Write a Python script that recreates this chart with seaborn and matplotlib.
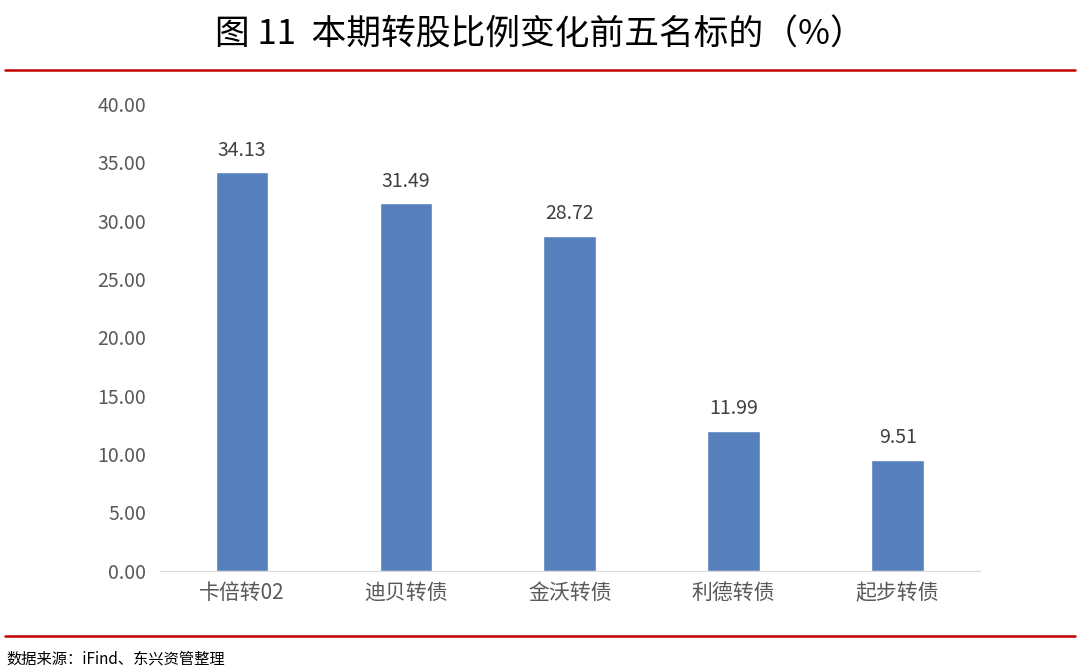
import matplotlib
matplotlib.use('Agg')
import matplotlib.pyplot as plt
import seaborn as sns
import pandas as pd
from matplotlib.lines import Line2D

names = ['卡倍转02', '迪贝转债', '金沃转债', '利德转债', '起步转债']
values = [34.13, 31.49, 28.72, 11.99, 9.51]
yticks = [0, 5, 10, 15, 20, 25, 30, 35, 40]

sns.set_style('white')
plt.rcParams['font.family'] = ['Noto Sans CJK SC', 'DejaVu Sans']

df = pd.DataFrame({'name': names, 'value': values})

fig = plt.figure(figsize=(10.8, 6.7), dpi=100)
ax = fig.add_axes([0.148, 0.148, 0.759, 0.697])
sns.barplot(data=df, x='name', y='value', color='#5680BC', width=0.32,
            saturation=1, ax=ax)

ax.set_ylim(0, 40)
ax.set_yticks(yticks)
ax.set_yticklabels(['{:.2f}'.format(v) for v in yticks], color='#595959', fontsize=14)
ax.tick_params(axis='x', labelsize=15, colors='#595959', length=0, pad=8)
ax.tick_params(axis='y', length=0, pad=10)
ax.set_xlabel('')
ax.set_ylabel('')
for s in ['top', 'right', 'left']:
    ax.spines[s].set_visible(False)
ax.spines['bottom'].set_color('#D9D9D9')

for i, v in enumerate(values):
    ax.text(i, v + 1.0, '{:.2f}'.format(v), ha='center', va='bottom',
            fontsize=14, color='#404040')

fig.text(0.5, 0.948, '图 11  本期转股比例变化前五名标的（%）', ha='center', va='center',
         fontsize=25, color='black')
fig.add_artist(Line2D([0.005, 0.995], [0.895, 0.895], color='#C00000', lw=1.8))
fig.add_artist(Line2D([0.005, 0.995], [0.051, 0.051], color='#C00000', lw=1.8))
fig.text(0.006, 0.017, '数据来源：iFind、东兴资管整理', ha='left', va='center',
         fontsize=11, color='black')

fig.savefig('out.png', dpi=100)
